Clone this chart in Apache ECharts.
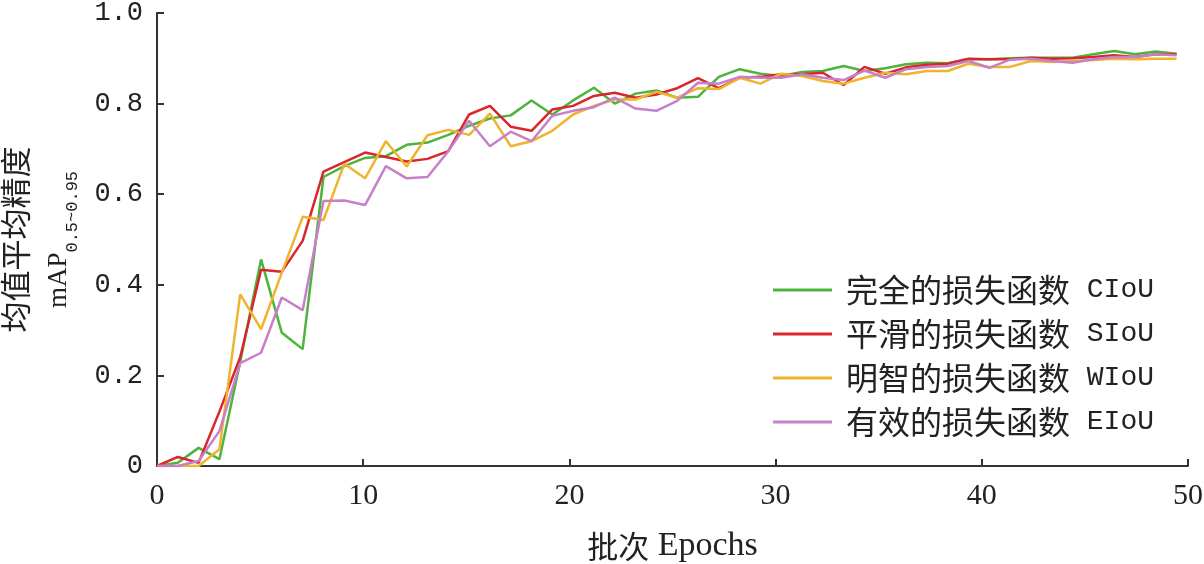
<!DOCTYPE html>
<html>
<head>
<meta charset="utf-8">
<style>
  html, body { margin: 0; padding: 0; background: #ffffff; }
  #chart { width: 1204px; height: 564px; }
</style>
<script src="https://cdn.jsdelivr.net/npm/echarts@6/dist/echarts.min.js"></script>
</head>
<body>
<div id="chart"></div>
<script>
// ---- data ----
const epochs = [0,1,2,3,4,5,6,7,8,9,10,11,12,13,14,15,16,17,18,19,20,21,22,23,24,25,26,27,28,29,30,31,32,33,34,35,36,37,38,39,40,41,42,43,44,45,46,47,48,49];

const seriesNames = ['完全的损失函数 CIoU', '平滑的损失函数 SIoU', '明智的损失函数 WIoU', '有效的损失函数 EIoU'];

const ciou = [0, 0.007, 0.04, 0.015, 0.23, 0.456, 0.294, 0.258, 0.638, 0.662,
  0.680, 0.684, 0.709, 0.714, 0.731, 0.751, 0.767, 0.774, 0.807, 0.776,
  0.807, 0.835, 0.800, 0.822, 0.829, 0.813, 0.815, 0.859, 0.876, 0.866,
  0.861, 0.870, 0.872, 0.883, 0.872, 0.878, 0.887, 0.890, 0.889, 0.898,
  0.898, 0.900, 0.901, 0.901, 0.901, 0.909, 0.916, 0.909, 0.915, 0.910];

const siou = [0, 0.02, 0.007, 0.12, 0.24, 0.433, 0.429, 0.497, 0.650, 0.671,
  0.692, 0.682, 0.672, 0.678, 0.695, 0.776, 0.795, 0.749, 0.740, 0.787,
  0.795, 0.817, 0.824, 0.813, 0.820, 0.834, 0.856, 0.834, 0.857, 0.859,
  0.865, 0.865, 0.868, 0.841, 0.881, 0.866, 0.880, 0.886, 0.888, 0.899,
  0.898, 0.898, 0.901, 0.899, 0.900, 0.903, 0.907, 0.903, 0.909, 0.909];

const wiou = [0, 0, 0, 0.037, 0.379, 0.302, 0.427, 0.550, 0.543, 0.667,
  0.635, 0.717, 0.661, 0.730, 0.742, 0.731, 0.778, 0.706, 0.717, 0.740,
  0.776, 0.795, 0.809, 0.809, 0.826, 0.813, 0.834, 0.832, 0.857, 0.844,
  0.866, 0.861, 0.850, 0.844, 0.857, 0.868, 0.865, 0.872, 0.872, 0.888,
  0.881, 0.881, 0.894, 0.892, 0.894, 0.896, 0.899, 0.898, 0.899, 0.899];

const eiou = [0, 0, 0.011, 0.077, 0.227, 0.250, 0.372, 0.344, 0.585, 0.586,
  0.576, 0.662, 0.635, 0.638, 0.695, 0.762, 0.706, 0.738, 0.717, 0.773,
  0.784, 0.792, 0.813, 0.789, 0.784, 0.806, 0.846, 0.844, 0.859, 0.857,
  0.857, 0.865, 0.857, 0.852, 0.873, 0.857, 0.876, 0.881, 0.883, 0.894,
  0.879, 0.897, 0.899, 0.894, 0.890, 0.898, 0.903, 0.903, 0.909, 0.907];

const xTickValues = [0, 10, 20, 30, 40, 50];
const xTickLabels = ['0', '10', '20', '30', '40', '50'];
const yTickValues = [0, 0.2, 0.4, 0.6, 0.8, 1.0];
const yTickLabels = ['0', '0.2', '0.4', '0.6', '0.8', '1.0'];

// ---- chart ----
const colors = ['#4db33d', '#d9262b', '#f0b32e', '#c67fc8'];
const seriesData = [ciou, siou, wiou, eiou];

function tickLabel(values, labels) {
  return function (v) {
    const i = values.findIndex(t => Math.abs(t - v) < 1e-6);
    return i >= 0 ? labels[i] : '';
  };
}

const axisColor = '#333333';
const chart = echarts.init(document.getElementById('chart'), null, { renderer: 'canvas' });

chart.setOption({
  backgroundColor: '#ffffff',
  animation: false,
  color: colors,
  grid: { left: 157, right: 16, top: 13, bottom: 98, containLabel: false, outerBoundsMode: 'none' },
  legend: {
    orient: 'vertical',
    left: 768,
    top: 269,
    itemWidth: 59,
    itemHeight: 3,
    itemGap: 12,
    icon: 'rect',
    data: seriesNames,
    formatter: function (name) {
      const k = name.indexOf(' ');
      return '{c|' + name.slice(0, k) + '}{e|' + name.slice(k) + '}';
    },
    textStyle: {
      color: '#222222',
      rich: {
        c: { fontFamily: 'Noto Sans CJK SC', fontSize: 32, lineHeight: 32, color: '#222222', padding: [0, 0, 0, 9] },
        e: { fontFamily: 'Liberation Mono', fontSize: 28, lineHeight: 32, color: '#222222' }
      }
    }
  },
  xAxis: [
    {
      type: 'value',
      min: 0,
      max: 50,
      interval: 10,
      axisLine: { show: true, lineStyle: { color: axisColor, width: 2 } },
      axisTick: { show: true, inside: true, length: 7, lineStyle: { color: axisColor, width: 2 } },
      splitLine: { show: false },
      axisLabel: {
        margin: 15,
        color: '#222222',
        fontFamily: 'Liberation Serif',
        fontSize: 30,
        formatter: tickLabel(xTickValues, xTickLabels)
      },
      name: '{c|批次}{e| Epochs}',
      nameLocation: 'middle',
      nameGap: 63,
      nameTextStyle: {
        rich: {
          c: { fontFamily: 'Noto Sans CJK SC', fontSize: 31, color: '#222222' },
          e: { fontFamily: 'Liberation Serif', fontSize: 34, color: '#222222' }
        }
      }
    },
    {
      type: 'value',
      min: 0,
      max: 49.55,
      show: false
    }
  ],
  yAxis: {
    type: 'value',
    min: 0,
    max: 1,
    interval: 0.2,
    axisLine: { show: true, lineStyle: { color: axisColor, width: 2 } },
    axisTick: { show: true, inside: true, length: 7, lineStyle: { color: axisColor, width: 2 } },
    splitLine: { show: false },
    axisLabel: {
      margin: 14,
      color: '#222222',
      fontFamily: 'Liberation Mono',
      fontSize: 27,
      formatter: tickLabel(yTickValues, yTickLabels)
    },
    name: '{t|均值平均精度}\n{m|mAP}{s|0.5~0.95}',
    nameLocation: 'middle',
    nameRotate: 90,
    nameGap: 76,
    nameTextStyle: {
      align: 'center',
      rich: {
        t: { fontFamily: 'Noto Sans CJK SC', fontSize: 31, lineHeight: 44, color: '#222222', align: 'center' },
        m: { fontFamily: 'Liberation Serif', fontSize: 27, lineHeight: 44, color: '#222222', verticalAlign: 'middle' },
        s: { fontFamily: 'Liberation Mono', fontSize: 17, lineHeight: 29, color: '#222222', verticalAlign: 'bottom' }
      }
    }
  },
  series: seriesNames.map(function (name, i) {
    return {
      name: name,
      type: 'line',
      xAxisIndex: 1,
      symbol: 'none',
      showSymbol: false,
      smooth: false,
      itemStyle: { color: colors[i] },
      lineStyle: { color: colors[i], width: 2.5 },
      data: epochs.map(function (e, j) { return [e, seriesData[i][j]]; })
    };
  })
});
</script>
</body>
</html>
